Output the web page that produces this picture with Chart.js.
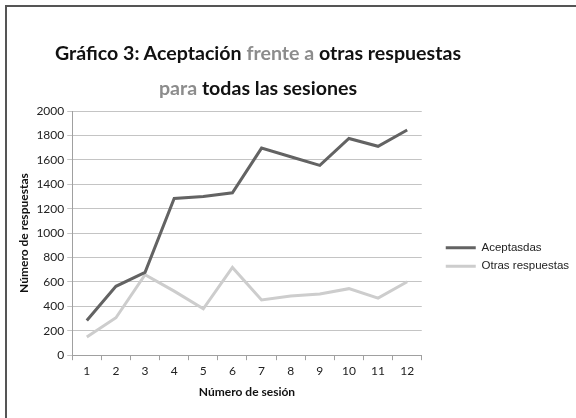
<!DOCTYPE html>
<html>
<head>
<meta charset="utf-8">
<script src="https://cdn.jsdelivr.net/npm/chart.js@4.4.0/dist/chart.umd.min.js"></script>
<style>
  html, body { margin: 0; padding: 0; background: #fff; }
  #wrap { position: relative; width: 576px; height: 418px; overflow: hidden; }
  #frame { position: absolute; left: 5px; top: 5px; width: 600px; height: 500px;
           border-left: 2px solid #555; border-top: 2px solid #555; }
  #title { position: absolute; left: 0; width: 516px; top: 35px; text-align: center;
           font-family: Lato, sans-serif; font-weight: bold; font-size: 19.6px;
           line-height: 35px; color: #111; }
  #title .soft { color: #8c8c8c; }
  canvas { position: absolute; left: 0; top: 0; }
</style>
</head>
<body>
<div id="wrap">
  <div id="frame"></div>
  <canvas id="chart" width="576" height="418"></canvas>
  <div id="title">Gráfico 3: Aceptación <span class="soft">frente a</span> otras respuestas<br><span class="soft">para</span> todas las sesiones</div>
</div>
<script>
const sessions = ['1', '2', '3', '4', '5', '6', '7', '8', '9', '10', '11', '12'];
const aceptadas = [285, 564, 678, 1284, 1300, 1330, 1696, 1625, 1555, 1775, 1711, 1844];
const otras = [149, 307, 660, 525, 380, 719, 453, 485, 502, 545, 468, 602];

const ctx = document.getElementById('chart').getContext('2d');
new Chart(ctx, {
    type: 'line',
    data: {
        labels: sessions,
        datasets: [{
            label: 'Aceptasdas',
            data: aceptadas,
            borderColor: '#636363',
            backgroundColor: '#636363',
            borderWidth: 3,
            pointRadius: 0,
            tension: 0
        }, {
            label: 'Otras respuestas',
            data: otras,
            borderColor: '#cdcdcd',
            backgroundColor: '#cdcdcd',
            borderWidth: 3,
            pointRadius: 0,
            tension: 0
        }]
    },
    options: {
        responsive: false,
        animation: false,
        layout: { padding: { top: 111, right: 2, bottom: 15, left: 13 } },
        plugins: {
            title: { display: false },
            tooltip: { enabled: false },
            legend: {
                position: 'right',
                labels: {
                    usePointStyle: true,
                    pointStyle: 'line',
                    pointStyleWidth: 30,
                    padding: 7,
                    color: '#222',
                    font: { family: 'Liberation Sans', size: 11.5 }
                }
            }
        },
        scales: {
            x: {
                offset: true,
                afterFit: s => { s.paddingRight = 0; },
                grid: { offset: true, drawOnChartArea: false, drawTicks: true, tickLength: 5, color: '#a0a0a0' },
                border: { color: '#a0a0a0' },
                ticks: { color: '#222', font: { family: 'Lato', size: 12 }, padding: 4, maxRotation: 0 },
                title: { display: true, text: 'Número de sesión', color: '#111',
                         font: { family: 'Lato', size: 12, weight: 'bold' }, padding: { top: 2 } }
            },
            y: {
                min: 0,
                max: 2000,
                ticks: { stepSize: 200, color: '#222', font: { family: 'Lato', size: 12 }, padding: 3,
                         callback: v => String(v) },
                grid: { color: '#c4c4c4', tickLength: 5 },
                border: { color: '#a0a0a0' },
                title: { display: true, text: 'Número de respuestas', color: '#111',
                         font: { family: 'Lato', size: 12, weight: 'bold' }, padding: { bottom: 2 } }
            }
        }
    },
    plugins: [{
        id: 'legendGap',
        beforeInit(chart) {
            const fit = chart.legend.fit;
            chart.legend.fit = function () {
                fit.call(this);
                this.width += 12;
            };
        },
        afterLayout(chart) {
            chart.legend.left += 17;
        }
    }]
});
</script>
</body>
</html>
